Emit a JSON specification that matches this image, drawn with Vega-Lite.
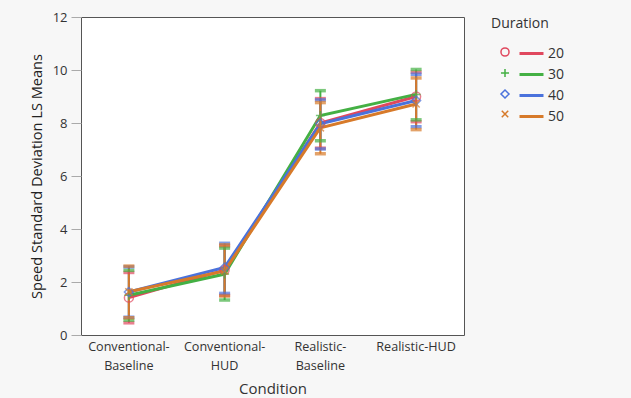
{
  "$schema": "https://vega.github.io/schema/vega-lite/v6.json",
  "width": 383,
  "height": 318,
  "autosize": {"type": "none"},
  "padding": {"left": 81, "top": 17, "right": 167, "bottom": 63},
  "background": "#f7f7f7",
  "config": {
    "font": "Open Sans",
    "view": {"fill": "white", "stroke": "#555555", "strokeWidth": 1},
    "legend": {
      "padding": 0,
      "titleFontSize": 14,
      "titleFontWeight": "normal",
      "titlePadding": 14,
      "labelFontSize": 14,
      "rowPadding": 5,
      "symbolStrokeWidth": 1.5,
      "symbolSize": 65
    }
  },
  "data": {
    "values": [
      {"Condition": "Conventional-Baseline", "Duration": 20, "mean": 1.41, "lo": 0.46, "hi": 2.36},
      {"Condition": "Conventional-Baseline", "Duration": 30, "mean": 1.5, "lo": 0.56, "hi": 2.44},
      {"Condition": "Conventional-Baseline", "Duration": 40, "mean": 1.62, "lo": 0.67, "hi": 2.57},
      {"Condition": "Conventional-Baseline", "Duration": 50, "mean": 1.63, "lo": 0.65, "hi": 2.6},
      {"Condition": "Conventional-HUD", "Duration": 20, "mean": 2.45, "lo": 1.5, "hi": 3.36},
      {"Condition": "Conventional-HUD", "Duration": 30, "mean": 2.3, "lo": 1.32, "hi": 3.28},
      {"Condition": "Conventional-HUD", "Duration": 40, "mean": 2.55, "lo": 1.57, "hi": 3.46},
      {"Condition": "Conventional-HUD", "Duration": 50, "mean": 2.42, "lo": 1.47, "hi": 3.4},
      {"Condition": "Realistic-Baseline", "Duration": 20, "mean": 8.0, "lo": 7.05, "hi": 8.92},
      {"Condition": "Realistic-Baseline", "Duration": 30, "mean": 8.28, "lo": 7.33, "hi": 9.22},
      {"Condition": "Realistic-Baseline", "Duration": 40, "mean": 7.97, "lo": 7.02, "hi": 8.87},
      {"Condition": "Realistic-Baseline", "Duration": 50, "mean": 7.82, "lo": 6.84, "hi": 8.77},
      {"Condition": "Realistic-HUD", "Duration": 20, "mean": 9.0, "lo": 8.05, "hi": 9.92},
      {"Condition": "Realistic-HUD", "Duration": 30, "mean": 9.08, "lo": 8.12, "hi": 10.02},
      {"Condition": "Realistic-HUD", "Duration": 40, "mean": 8.85, "lo": 7.86, "hi": 9.84},
      {"Condition": "Realistic-HUD", "Duration": 50, "mean": 8.72, "lo": 7.75, "hi": 9.7}
    ]
  },
  "encoding": {
    "x": {
      "field": "Condition",
      "type": "nominal",
      "sort": ["Conventional-Baseline", "Conventional-HUD", "Realistic-Baseline", "Realistic-HUD"],
      "title": "Condition",
      "axis": {
        "labelAngle": 0,
        "ticks": false,
        "domain": false,
        "labelPadding": 5,
        "labelFontSize": 12.6,
        "labelLineHeight": 19,
        "labelColor": "#333333",
        "labelExpr": "length(datum.label) > 13 ? [slice(datum.label, 0, indexof(datum.label, '-') + 1), slice(datum.label, indexof(datum.label, '-') + 1)] : datum.label",
        "titleFontSize": 15,
        "titleFontWeight": "normal",
        "titleColor": "#333333",
        "titlePadding": 10
      }
    }
  },
  "layer": [
    {
      "mark": {"type": "line", "strokeWidth": 3},
      "encoding": {
        "y": {
          "field": "mean",
          "type": "quantitative",
          "title": "Speed Standard Deviation LS Means",
          "scale": {"domain": [0, 12], "nice": false},
          "axis": {
            "values": [0, 2, 4, 6, 8, 10, 12],
            "grid": false,
            "domain": false,
            "tickColor": "#aaaaaa",
            "tickSize": 10,
            "labelPadding": 4,
            "labelFontSize": 13,
            "labelColor": "#333333",
            "titleFontSize": 14.6,
            "titleFontWeight": "normal",
            "titleColor": "#222222",
            "titlePadding": 8
          }
        },
        "stroke": {
          "field": "Duration",
          "type": "nominal",
          "scale": {"domain": [20, 30, 40, 50], "range": ["#e0485e", "#44b044", "#4a72dc", "#d77a2a"]},
          "legend": {
            "orient": "none",
            "legendX": 437,
            "legendY": 23,
            "title": null,
            "symbolType": "stroke",
            "symbolSize": 576,
            "symbolStrokeWidth": 3,
            "rowPadding": -4.5,
            "labelOffset": 3,
            "labelColor": "#333333"
          }
        }
      }
    },
    {
      "mark": {"type": "rule", "strokeWidth": 2},
      "encoding": {
        "y": {"field": "lo", "type": "quantitative", "title": "Speed Standard Deviation LS Means"},
        "y2": {"field": "hi"},
        "stroke": {"field": "Duration", "type": "nominal"}
      }
    },
    {
      "mark": {"type": "tick", "thickness": 3.5, "size": 11},
      "encoding": {
        "y": {"field": "lo", "type": "quantitative", "title": "Speed Standard Deviation LS Means"},
        "fill": {
          "field": "Duration",
          "type": "nominal",
          "scale": {"domain": [20, 30, 40, 50], "range": ["#e0485e", "#44b044", "#4a72dc", "#d77a2a"]},
          "legend": null
        }
      }
    },
    {
      "mark": {"type": "tick", "thickness": 3.5, "size": 11},
      "encoding": {
        "y": {"field": "hi", "type": "quantitative", "title": "Speed Standard Deviation LS Means"},
        "fill": {"field": "Duration", "type": "nominal", "legend": null}
      }
    },
    {
      "mark": {"type": "point", "filled": false, "size": 80, "strokeWidth": 1.5},
      "encoding": {
        "y": {"field": "mean", "type": "quantitative", "title": "Speed Standard Deviation LS Means"},
        "color": {
          "field": "Duration",
          "type": "nominal",
          "scale": {"domain": [20, 30, 40, 50], "range": ["#e0485e", "#44b044", "#4a72dc", "#d77a2a"]},
          "legend": {
            "orient": "right",
            "offset": 27,
            "title": "Duration",
            "titleColor": "#333333",
            "labelColor": "transparent",
            "symbolOffset": 7,
            "symbolOpacity": 1
          }
        },
        "shape": {
          "field": "Duration",
          "type": "nominal",
          "scale": {"domain": [20, 30, 40, 50], "range": ["circle", "M-1,0H1M0,-1V1", "M0,-1L1,0L0,1L-1,0Z", "M-0.8,-0.8L0.8,0.8M-0.8,0.8L0.8,-0.8"]},
          "legend": {
            "orient": "right",
            "offset": 27,
            "title": "Duration",
            "titleColor": "transparent",
            "labelColor": "transparent",
            "labelExpr": "''",
            "symbolOffset": 7,
            "symbolOpacity": 0
          }
        }
      }
    }
  ]
}
